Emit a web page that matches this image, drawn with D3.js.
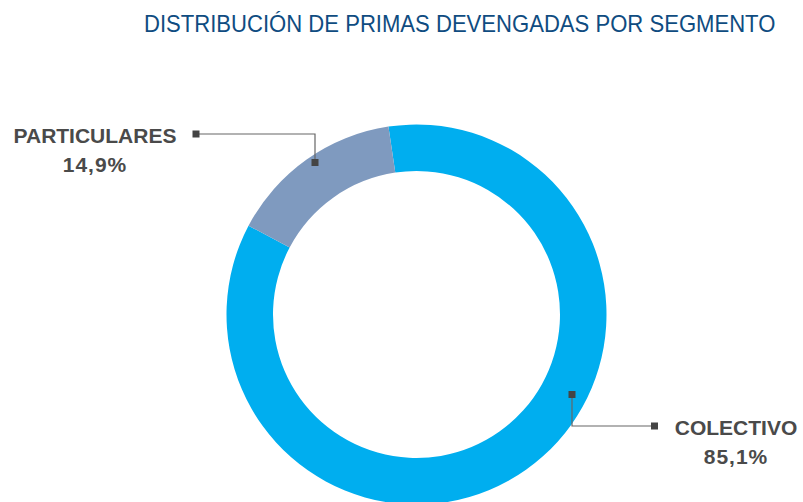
<!DOCTYPE html>
<html>
<head>
<meta charset="utf-8">
<script src="https://cdn.jsdelivr.net/npm/d3@7"></script>
<style>
  body { margin: 0; background: #fff; }
  svg { display: block; font-family: "Liberation Sans", Arial, sans-serif; }
</style>
</head>
<body>
<svg id="chart" width="803" height="502"></svg>
<script>
// data
const segments = ['COLECTIVO', 'PARTICULARES'];
const shares = [85.1, 14.9];
const shareLabels = ['85,1%', '14,9%'];
const colors = ['#00aeef', '#7f9abf'];

const width = 803, height = 502;
const cx = 416.5, cy = 314.5;
const outerR = 190, innerR = 143.5;

const svg = d3.select('#chart');

// title is a narrow face in the original, so squeeze it horizontally
const title = svg.append('text')
  .attr('font-size', 24)
  .attr('fill', '#0f4c81')
  .text('DISTRIBUCIÓN DE PRIMAS DEVENGADAS POR SEGMENTO');
const tw = title.node().getComputedTextLength();
title.attr('transform', 'translate(144,32) scale(' + (632 / tw) + ',1)');

const data = segments.map((s, i) => ({ name: s, value: shares[i], label: shareLabels[i], color: colors[i] }));

const startA = -8.5 * Math.PI / 180;
const pie = d3.pie().value(d => d.value).sort(null)
  .startAngle(startA).endAngle(startA + 2 * Math.PI);
const arc = d3.arc().innerRadius(innerR).outerRadius(outerR);

const g = svg.append('g').attr('transform', 'translate(' + cx + ',' + cy + ')');

g.selectAll('.slice')
  .data(pie(data))
  .enter().append('path')
  .attr('class', 'slice')
  .attr('d', arc)
  .attr('fill', d => d.data.color);

// leader lines: [anchor on ring, elbow, end] in page coords
const leaders = {
  PARTICULARES: { pts: [[315, 162.5], [315, 134], [196, 134]], tx: 95, ty: 143 },
  COLECTIVO: { pts: [[572, 394.5], [572, 426], [654.5, 426]], tx: 736, ty: 435 }
};

const lines = svg.append('g');
data.forEach(d => {
  const L = leaders[d.name];
  lines.append('path')
    .attr('d', d3.line()(L.pts))
    .attr('fill', 'none')
    .attr('stroke', '#666')
    .attr('stroke-width', 1.2);
  [L.pts[0], L.pts[2]].forEach(p => {
    lines.append('rect')
      .attr('x', p[0] - 3.5).attr('y', p[1] - 3.5)
      .attr('width', 7).attr('height', 7)
      .attr('fill', '#444');
  });
  const t = svg.append('text')
    .attr('text-anchor', 'middle')
    .attr('font-weight', 'bold')
    .attr('font-size', 21)
    .attr('fill', '#4a4a4a');
  t.append('tspan').attr('x', L.tx).attr('y', L.ty).text(d.name);
  t.append('tspan').attr('x', L.tx).attr('y', L.ty + 29).attr('letter-spacing', 1).text(d.label);
});
</script>
</body>
</html>
